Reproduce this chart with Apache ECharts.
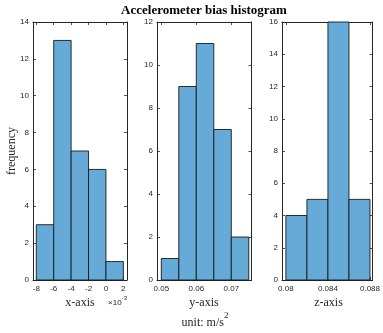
<!DOCTYPE html>
<html><head><meta charset="utf-8">
<script src="https://cdn.jsdelivr.net/npm/echarts@6/dist/echarts.min.js"></script>
<style>html,body{margin:0;padding:0;background:#fff}#c{width:383px;height:333px}</style>
</head><body><div id="c"></div>
<script>
// Data
const xEdges = [-0.008, -0.006, -0.004, -0.002, 0.000, 0.002];
const xCounts = [3, 13, 7, 6, 1];
const yEdges = [0.050, 0.055, 0.060, 0.065, 0.070, 0.075];
const yCounts = [1, 9, 11, 7, 2];
const zEdges = [0.080, 0.082, 0.084, 0.086, 0.088];
const zCounts = [4, 5, 16, 5];
const xTicks = [-0.008, -0.006, -0.004, -0.002, 0, 0.002];
const yTicks = [0.05, 0.06, 0.07];
const zTicks = [0.08, 0.084, 0.088];
const freqMax = [14, 12, 16];

const panels = [
  {edges: xEdges, counts: xCounts, ticks: xTicks, min: -0.00838, max: 0.00242, fmt: v => String(Math.round(v * 1000)), left: 33, width: 94},
  {edges: yEdges, counts: yCounts, ticks: yTicks, min: 0.04877, max: 0.07577, fmt: v => v.toFixed(2), left: 157, width: 94.5},
  {edges: zEdges, counts: zCounts, ticks: zTicks, min: 0.07963, max: 0.08825, fmt: v => v.toFixed(3).replace(/0+$/, '').replace(/\.$/, ''), left: 282, width: 93.5}
];
const TOP = 22, HEIGHT = 258;
const axisColor = '#262626';
const labelFont = {fontFamily: 'Liberation Sans, Arial, sans-serif', fontSize: 8, color: axisColor};

const grid = [], xAxis = [], yAxis = [], series = [];
panels.forEach((p, i) => {
  grid.push({left: p.left, top: TOP, width: p.width, height: HEIGHT});
  const base = {type: 'value', gridIndex: i, min: p.min, max: p.max, splitLine: {show: false},
    axisLine: {show: true, onZero: false, lineStyle: {color: axisColor, width: 1}},
    axisTick: {show: true, inside: true, length: 3, lineStyle: {color: axisColor, width: 0.8}, customValues: p.ticks}};
  xAxis.push(Object.assign({}, base, {position: 'bottom',
    axisLabel: Object.assign({show: true, margin: 5, customValues: p.ticks, formatter: p.fmt}, labelFont)}));
  xAxis.push(Object.assign({}, base, {position: 'top', axisLabel: {show: false}}));
  const ybase = {type: 'value', gridIndex: i, min: 0, max: freqMax[i], interval: 2, splitLine: {show: false},
    axisLine: {show: true, onZero: false, lineStyle: {color: axisColor, width: 1}},
    axisTick: {show: true, inside: true, length: 3, lineStyle: {color: axisColor, width: 0.8}}};
  yAxis.push(Object.assign({}, ybase, {position: 'left',
    axisLabel: Object.assign({show: true, margin: 4}, labelFont)}));
  yAxis.push(Object.assign({}, ybase, {position: 'right', axisLabel: {show: false}}));
  series.push({
    type: 'custom', xAxisIndex: i * 2, yAxisIndex: i * 2,
    data: p.counts.map((c, k) => [p.edges[k], p.edges[k + 1], c]),
    encode: {x: [0, 1], y: 2},
    renderItem: (params, api) => {
      const a = api.coord([api.value(0), api.value(2)]);
      const b = api.coord([api.value(1), 0]);
      return {type: 'rect', shape: {x: a[0], y: a[1], width: b[0] - a[0], height: b[1] - a[1]},
        style: {fill: '#66AAD7', stroke: '#1a1a1a', lineWidth: 0.9}};
    }
  });
});

const serif = 'Liberation Serif, Times New Roman, serif';
const graphic = [
  {type: 'text', x: 204, y: 11, style: {text: 'Accelerometer bias histogram', font: 'bold 13px ' + serif, fill: '#000', align: 'center', verticalAlign: 'middle'}},
  {type: 'text', x: 12, y: 151, rotation: Math.PI / 2, style: {text: 'frequency', font: '12px ' + serif, fill: '#262626', align: 'center', verticalAlign: 'middle'}},
  {type: 'text', x: 80, y: 303, style: {text: 'x-axis', font: '12px ' + serif, fill: '#262626', align: 'center', verticalAlign: 'middle'}},
  {type: 'text', x: 204, y: 303, style: {text: 'y-axis', font: '12px ' + serif, fill: '#262626', align: 'center', verticalAlign: 'middle'}},
  {type: 'text', x: 328.5, y: 303, style: {text: 'z-axis', font: '12px ' + serif, fill: '#262626', align: 'center', verticalAlign: 'middle'}},
  {type: 'text', x: 127, y: 301, style: {text: '{a|×10}{s|-3}', align: 'right', verticalAlign: 'middle',
    rich: {a: {fontFamily: 'Liberation Sans, Arial, sans-serif', fontSize: 8, fill: '#262626', lineHeight: 12, verticalAlign: 'bottom'},
           s: {fontFamily: 'Liberation Sans, Arial, sans-serif', fontSize: 6, fill: '#262626', lineHeight: 12, verticalAlign: 'top'}}}},
  {type: 'text', x: 205, y: 320, style: {text: '{a|unit: m/s}{s|2}', align: 'center', verticalAlign: 'middle',
    rich: {a: {fontFamily: serif, fontSize: 12, fill: '#262626', lineHeight: 18, verticalAlign: 'bottom'},
           s: {fontFamily: serif, fontSize: 9, fill: '#262626', lineHeight: 18, verticalAlign: 'top'}}}}
];

const chart = echarts.init(document.getElementById('c'), null, {renderer: 'canvas'});
chart.setOption({animation: false, backgroundColor: '#fff', grid, xAxis, yAxis, series, graphic});
</script></body></html>
